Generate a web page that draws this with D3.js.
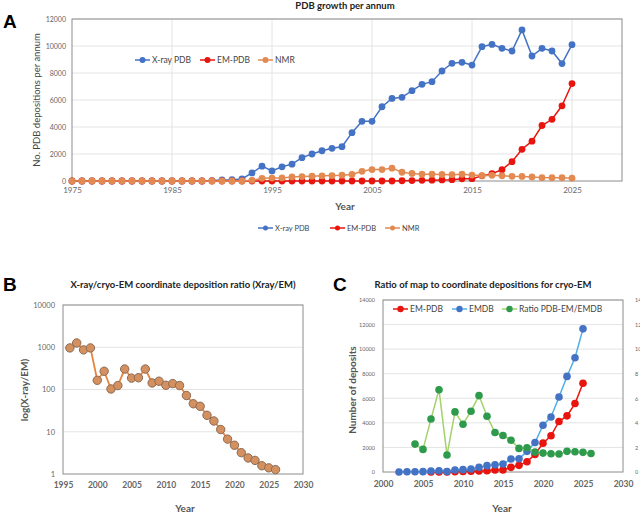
<!DOCTYPE html>
<html lang="en">
<head>
<meta charset="UTF-8">
<title>PDB growth</title>
<script src="https://cdn.jsdelivr.net/npm/d3@7/dist/d3.min.js"></script>
<style>
    body { margin: 0; background: #fff; }
    svg { display: block; font-family: Lato, "Open Sans", sans-serif; }
    .grid line { stroke: #e4e4e4; stroke-width: 1; }
    .tick text { fill: #666; }
</style>
</head>
<body>
<div id="chart"></div>
<script>
'use strict';

// Panel A: depositions per annum
const yearsA = [1975, 1976, 1977, 1978, 1979, 1980, 1981, 1982, 1983, 1984, 1985, 1986, 1987, 1988, 1989,
    1990, 1991, 1992, 1993, 1994, 1995, 1996, 1997, 1998, 1999, 2000, 2001, 2002, 2003, 2004, 2005,
    2006, 2007, 2008, 2009, 2010, 2011, 2012, 2013, 2014, 2015, 2016, 2017, 2018, 2019, 2020, 2021,
    2022, 2023, 2024, 2025];
const xrayA = [0, 0, 0, 0, 0, 0, 0, 0, 0, 0, 0, 0, 0, 0, 30,
    80, 100, 150, 600, 1100, 750, 1050, 1250, 1730, 2000, 2240, 2420, 2540, 3580, 4420, 4420,
    5500, 6120, 6200, 6690, 7160, 7360, 8150, 8720, 8790, 8590, 9950, 10120, 9830, 9630, 11190, 9260,
    9830, 9630, 8700, 10100];
const emA = [0, 0, 0, 0, 0, 0, 0, 0, 0, 0, 0, 0, 0, 0, 0,
    0, 0, 0, 0, 0, 0, 0, 0, 0, 0, 0, 0, 0, 0, 0, 0,
    0, 0, 20, 30, 50, 60, 80, 100, 160, 170, 380, 540, 840, 1430, 2350, 2950,
    4110, 4570, 5570, 7220];
const nmrA = [0, 0, 0, 0, 0, 0, 0, 0, 0, 0, 0, 0, 0, 0, 0,
    0, 0, 0, 50, 200, 220, 230, 300, 330, 360, 380, 400, 430, 480, 720, 850,
    850, 950, 650, 560, 500, 500, 480, 470, 500, 440, 400, 420, 390, 350, 340, 300,
    250, 240, 240, 210];
const ticksA = [1975, 1985, 1995, 2005, 2015, 2025];
const seriesNamesA = ['X-ray PDB', 'EM-PDB', 'NMR'];

// Panel B: X-ray / EM ratio
const yearsB = [1996, 1997, 1998, 1999, 2000, 2001, 2002, 2003, 2004, 2005, 2006, 2007, 2008, 2009, 2010,
    2011, 2012, 2013, 2014, 2015, 2016, 2017, 2018, 2019, 2020, 2021, 2022, 2023, 2024, 2025, 2026];
const ratioB = [964, 1263, 866, 964, 165, 270, 103, 124, 305, 186, 190, 305, 143, 157, 126,
    138, 124, 72, 46, 40, 24.5, 18, 11.3, 6.7, 4.8, 3.2, 2.4, 2.1, 1.57, 1.4, 1.27];
const ticksB = [1, 10, 100, 1000, 10000];

// Panel C: maps vs coordinates
const emdbYears = [2002, 2003, 2004, 2005, 2006, 2007, 2008, 2009, 2010, 2011, 2012, 2013, 2014,
    2015, 2016, 2017, 2018, 2019, 2020, 2021, 2022, 2023, 2024, 2025];
const emdbC = [0, 20, 20, 30, 80, 100, 40, 165, 190, 245, 380, 515, 595,
    650, 1055, 1080, 1680, 2400, 3810, 4480, 6110, 7780, 9300, 11650];
const emYearsC = [2006, 2007, 2008, 2009, 2010, 2011, 2012, 2013, 2014, 2015, 2016, 2017, 2018,
    2019, 2020, 2021, 2022, 2023, 2024, 2025];
const emC = [0, 0, 10, 30, 50, 60, 80, 100, 160, 170, 380, 540, 840,
    1430, 2350, 2950, 4110, 4570, 5570, 7220];
const ratioYearsC = [2004, 2005, 2006, 2007, 2008, 2009, 2010, 2011, 2012, 2013, 2014, 2015, 2016,
    2017, 2018, 2019, 2020, 2021, 2022, 2023, 2024, 2025, 2026];
const ratioC = [2.27, 1.84, 4.32, 6.7, 1.38, 4.89, 3.89, 4.95, 6.22, 4.54, 3.22, 2.97, 2.59,
    1.92, 1.97, 1.62, 1.54, 1.49, 1.46, 1.68, 1.65, 1.6, 1.51];
const seriesNamesC = ['EM-PDB', 'EMDB', 'Ratio PDB-EM/EMDB'];

const svg = d3.select('#chart').append('svg').attr('width', 640).attr('height', 514);
svg.append('rect').attr('width', 640).attr('height', 514).attr('fill', '#fff');

function zip(xs, ys) {
    return xs.map(function (x, i) { return [x, ys[i]]; });
}

// draws one line + circle series
function drawSeries(g, pts, x, y, opt) {
    g.append('path')
        .datum(pts)
        .attr('fill', 'none')
        .attr('stroke', opt.line)
        .attr('stroke-width', opt.lw || 1.5)
        .attr('d', d3.line().x(function (d) { return x(d[0]); }).y(function (d) { return y(d[1]); }));
    g.selectAll(null).data(pts).enter().append('circle')
        .attr('cx', function (d) { return x(d[0]); })
        .attr('cy', function (d) { return y(d[1]); })
        .attr('r', opt.r)
        .attr('fill', opt.fill)
        .attr('stroke', opt.stroke || 'none')
        .attr('stroke-width', opt.stroke ? 1 : 0);
}

function legendItem(g, lx, ly, color, lineColor, label, size, r) {
    g.append('line').attr('x1', lx).attr('x2', lx + 15).attr('y1', ly).attr('y2', ly)
        .attr('stroke', lineColor).attr('stroke-width', 1.5);
    g.append('circle').attr('cx', lx + 7.5).attr('cy', ly).attr('r', r).attr('fill', color);
    g.append('text').attr('x', lx + 17).attr('y', ly + size * 0.35)
        .attr('font-size', size).attr('fill', '#444').text(label);
}

function frame(g, x0, y0, x1, y1) {
    g.append('rect').attr('x', x0).attr('y', y0).attr('width', x1 - x0).attr('height', y1 - y0)
        .attr('fill', 'none').attr('stroke', '#8c8c8c').attr('stroke-width', 1);
}

const blue = '#4472c4', red = '#e8150f', orange = '#e38a52';
const plain = d3.format('d');

// ---------- Panel A ----------
(function () {
    const g = svg.append('g');
    const x = d3.scaleLinear().domain([1975, 2030]).range([72, 622]);
    const y = d3.scaleLinear().domain([0, 12000]).range([181, 19]);

    g.append('g').attr('class', 'grid')
        .selectAll('line').data(d3.range(2000, 12001, 2000)).enter().append('line')
        .attr('x1', 72).attr('x2', 622).attr('y1', y).attr('y2', y);
    g.append('g').attr('class', 'grid')
        .selectAll('line').data([1985, 1995, 2005, 2015, 2025]).enter().append('line')
        .attr('y1', 19).attr('y2', 181).attr('x1', x).attr('x2', x);

    const yAxis = g.append('g').attr('transform', 'translate(72,0)')
        .call(d3.axisLeft(y).tickValues(d3.range(0, 12001, 2000)).tickFormat(plain).tickSize(0).tickPadding(6));
    yAxis.select('.domain').remove();
    yAxis.selectAll('text').attr('font-size', 7).attr('font-family', 'Lato, sans-serif');
    const xAxis = g.append('g').attr('transform', 'translate(0,181)')
        .call(d3.axisBottom(x).tickValues(ticksA).tickFormat(plain).tickSize(0).tickPadding(6));
    xAxis.select('.domain').remove();
    xAxis.selectAll('text').attr('font-size', 8).attr('fill', '#555').attr('font-family', 'Lato, sans-serif');

    frame(g, 72, 19, 622, 181);

    drawSeries(g, zip(yearsA, xrayA), x, y, { line: blue, fill: blue, r: 3.4 });
    drawSeries(g, zip(yearsA, emA), x, y, { line: red, fill: red, r: 3.4 });
    drawSeries(g, zip(yearsA, nmrA), x, y, { line: orange, fill: orange, r: 3.4 });

    g.append('text').attr('x', 345).attr('y', 9).attr('text-anchor', 'middle')
        .attr('font-size', 9.5).attr('font-weight', 'bold').attr('fill', '#222').text('PDB growth per annum');
    g.append('text').attr('x', 3).attr('y', 28).attr('font-size', 19).attr('font-weight', 'bold')
        .attr('font-family', 'Liberation Sans, Arial, sans-serif').text('A');
    g.append('text').attr('transform', 'translate(40,100) rotate(-90)').attr('text-anchor', 'middle')
        .attr('font-size', 9.5).attr('fill', '#444').text('No. PDB depositions per annum');
    g.append('text').attr('x', 345).attr('y', 210).attr('text-anchor', 'middle')
        .attr('font-size', 10).attr('font-weight', 'bold').attr('fill', '#555').text('Year');

    const cols = [blue, red, orange];
    const inX = [135, 200, 258];
    seriesNamesA.forEach(function (n, i) { legendItem(g, inX[i], 60, cols[i], cols[i], n, 8.5, 3); });
    const outX = [258, 330, 385];
    seriesNamesA.forEach(function (n, i) { legendItem(g, outX[i], 228, cols[i], cols[i], n, 7.5, 2.5); });
})();

// ---------- Panel B ----------
(function () {
    const g = svg.append('g');
    const x = d3.scaleLinear().domain([1995, 2030]).range([63, 303]);
    const y = d3.scaleLog().domain([1, 10000]).range([474, 305]);

    g.append('g').attr('class', 'grid')
        .selectAll('line').data(ticksB.slice(1)).enter().append('line')
        .attr('x1', 63).attr('x2', 303).attr('y1', y).attr('y2', y);

    const yAxis = g.append('g').attr('transform', 'translate(63,0)')
        .call(d3.axisLeft(y).tickValues(ticksB).tickFormat(plain).tickSize(0).tickPadding(8));
    yAxis.select('.domain').remove();
    yAxis.selectAll('text').attr('font-size', 7.5).attr('fill', '#555').attr('font-family', 'Lato, sans-serif');
    const xAxis = g.append('g').attr('transform', 'translate(0,474)')
        .call(d3.axisBottom(x).tickValues(d3.range(1995, 2031, 5)).tickFormat(plain).tickSize(0).tickPadding(8));
    xAxis.select('.domain').remove();
    xAxis.selectAll('text').attr('font-size', 8.5).attr('font-weight', 'bold').attr('fill', '#555')
        .attr('font-family', 'Lato, sans-serif');

    frame(g, 63, 305, 303, 474);

    drawSeries(g, zip(yearsB, ratioB), x, y, { line: '#e5843f', fill: '#d4915f', stroke: '#8a6a55', r: 4.2, lw: 1.8 });

    g.append('text').attr('x', 183).attr('y', 288).attr('text-anchor', 'middle')
        .attr('font-size', 9.5).attr('font-weight', 'bold').attr('fill', '#222')
        .text('X-ray/cryo-EM coordinate deposition ratio (Xray/EM)');
    g.append('text').attr('x', 3).attr('y', 291).attr('font-size', 19).attr('font-weight', 'bold')
        .attr('font-family', 'Liberation Sans, Arial, sans-serif').text('B');
    g.append('text').attr('transform', 'translate(28,390) rotate(-90)').attr('text-anchor', 'middle')
        .attr('font-size', 10).attr('font-weight', 'bold').attr('fill', '#555').text('log(X-ray/EM)');
    g.append('text').attr('x', 185).attr('y', 512).attr('text-anchor', 'middle')
        .attr('font-size', 10).attr('font-weight', 'bold').attr('fill', '#555').text('Year');
})();

// ---------- Panel C ----------
(function () {
    const g = svg.append('g');
    const x = d3.scaleLinear().domain([2000, 2030]).range([383, 623]);
    const y = d3.scaleLinear().domain([0, 14000]).range([472, 300]);
    const y2 = d3.scaleLinear().domain([0, 14]).range([472, 300]);

    g.append('g').attr('class', 'grid')
        .selectAll('line').data(d3.range(2000, 14001, 2000)).enter().append('line')
        .attr('x1', 383).attr('x2', 623).attr('y1', y).attr('y2', y);

    const yAxis = g.append('g').attr('transform', 'translate(383,0)')
        .call(d3.axisLeft(y).tickValues(d3.range(0, 14001, 2000)).tickFormat(plain).tickSize(0).tickPadding(8));
    yAxis.select('.domain').remove();
    yAxis.selectAll('text').attr('font-size', 5.5).attr('fill', '#666').attr('font-family', 'Lato, sans-serif');
    const y2Axis = g.append('g').attr('transform', 'translate(623,0)')
        .call(d3.axisRight(y2).tickValues(d3.range(0, 15, 2)).tickFormat(plain).tickSize(0).tickPadding(12));
    y2Axis.select('.domain').remove();
    y2Axis.selectAll('text').attr('font-size', 5.5).attr('fill', '#666').attr('font-family', 'Lato, sans-serif');
    const xAxis = g.append('g').attr('transform', 'translate(0,472)')
        .call(d3.axisBottom(x).tickValues(d3.range(2000, 2031, 5)).tickFormat(plain).tickSize(0).tickPadding(9));
    xAxis.select('.domain').remove();
    xAxis.selectAll('text').attr('font-size', 8.5).attr('font-weight', 'bold').attr('fill', '#555')
        .attr('font-family', 'Lato, sans-serif');

    frame(g, 383, 300, 623, 472);

    drawSeries(g, zip(emYearsC, emC), x, y, { line: red, fill: red, r: 3.8 });
    drawSeries(g, zip(emdbYears, emdbC), x, y, { line: '#4fb0e6', fill: blue, r: 3.8 });
    drawSeries(g, zip(ratioYearsC, ratioC), x, y2, { line: '#a3d26a', fill: '#2e9a4c', r: 3.8 });

    const cols = [red, blue, '#2e9a4c'];
    const lines = [red, '#4fb0e6', '#a3d26a'];
    const lx = [393, 452, 502];
    seriesNamesC.forEach(function (n, i) { legendItem(g, lx[i], 309, cols[i], lines[i], n, 8.5, 3.2); });

    g.append('text').attr('x', 483).attr('y', 288).attr('text-anchor', 'middle')
        .attr('font-size', 9.5).attr('font-weight', 'bold').attr('fill', '#222')
        .text('Ratio of map to coordinate depositions for cryo-EM');
    g.append('text').attr('x', 333).attr('y', 291).attr('font-size', 19).attr('font-weight', 'bold')
        .attr('font-family', 'Liberation Sans, Arial, sans-serif').text('C');
    g.append('text').attr('transform', 'translate(356,390) rotate(-90)').attr('text-anchor', 'middle')
        .attr('font-size', 10).attr('font-weight', 'bold').attr('fill', '#555').text('Number of deposits');
    g.append('text').attr('x', 502).attr('y', 512).attr('text-anchor', 'middle')
        .attr('font-size', 10).attr('font-weight', 'bold').attr('fill', '#555').text('Year');
})();
</script>
</body>
</html>
